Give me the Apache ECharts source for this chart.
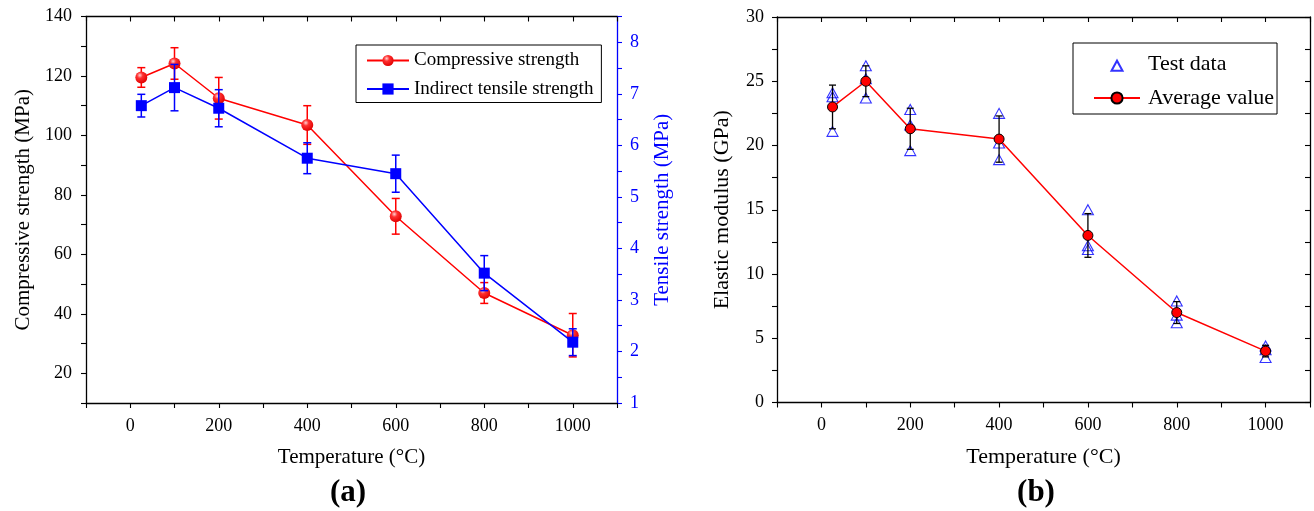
<!DOCTYPE html>
<html><head><meta charset="utf-8">
<script src="https://cdn.jsdelivr.net/npm/echarts@6/dist/echarts.min.js"></script>
<style>html,body{margin:0;padding:0;background:#fff}#c{width:1314px;height:511px}</style>
</head><body><div id="c"></div>
<script>
// ---- data ----
const temps = [25, 100, 200, 400, 600, 800, 1000];
const compressive = [119.5, 124.2, 112.5, 103.5, 72.8, 47.0, 32.8];
const compressiveErr = [3.3, 5.3, 7.0, 6.5, 6.0, 3.5, 7.3];
const tensile = [6.77, 7.12, 6.72, 5.75, 5.45, 3.52, 2.18];
const tensileErr = [0.22, 0.45, 0.36, 0.30, 0.36, 0.34, 0.26];
const testRun1 = [24.1, 26.2, 22.8, 22.5, 15.0, 7.9, 4.4];
const testRun2 = [23.8, 25.2, 21.6, 20.2, 12.2, 6.8, 4.1];
const testRun3 = [21.1, 23.7, 19.6, 18.9, 11.9, 6.2, 3.5];
const modulusAvg = [23.0, 25.0, 21.3, 20.5, 13.0, 7.0, 4.0];
const modulusErr = [1.7, 1.2, 1.6, 1.8, 1.7, 0.85, 0.45];
const xTickLabels = [0, 200, 400, 600, 800, 1000];
const compTickLabels = [20, 40, 60, 80, 100, 120, 140];
const tensTickLabels = [1, 2, 3, 4, 5, 6, 7, 8];
const modTickLabels = [0, 5, 10, 15, 20, 25, 30];

const FONT = 'Liberation Serif, Times New Roman, serif';
const RED = '#ff0000', BLUE = '#0000ff';

function errBar(color, cap, lw) {
  return function (params, api) {
    const x = api.value(0), lo = api.value(1), hi = api.value(2);
    const p1 = api.coord([x, hi]), p2 = api.coord([x, lo]);
    const st = { stroke: color, lineWidth: lw };
    return { type: 'group', children: [
      { type: 'line', shape: { x1: p1[0], y1: p1[1], x2: p2[0], y2: p2[1] }, style: st },
      { type: 'line', shape: { x1: p1[0] - cap, y1: p1[1], x2: p1[0] + cap, y2: p1[1] }, style: st },
      { type: 'line', shape: { x1: p2[0] - cap, y1: p2[1], x2: p2[0] + cap, y2: p2[1] }, style: st }
    ]};
  };
}
function lbl(list) { return v => (list.some(t => Math.abs(t - v) < 1e-6) ? String(v) : ''); }

const axisLine = c => ({ show: true, onZero: false, lineStyle: { color: c, width: 1.3 } });
const tick = (c, inside) => ({ show: true, inside: inside, length: 5, lineStyle: { color: c, width: 1.1 } });
const xBase = { type: 'value', min: -100, max: 1100, interval: 100, splitLine: { show: false } };
const nameStyle = (size, c) => ({ fontFamily: FONT, fontSize: size, color: c || '#000' });
const tickLabel = (list, margin, c) => ({ formatter: lbl(list), fontFamily: FONT, fontSize: 18, color: c || '#000', margin: margin });

const sphere = { type: 'radial', x: 0.38, y: 0.32, r: 0.7, colorStops: [
  { offset: 0, color: '#ffd0d0' }, { offset: 0.35, color: '#ff3030' }, { offset: 1, color: '#e00000' }] };

const option = {
  animation: false,
  backgroundColor: '#fff',
  grid: [
    { left: 86, top: 16.5, width: 531, height: 386.5 },
    { left: 777, top: 17, width: 533, height: 385.5 }
  ],
  xAxis: [
    Object.assign({}, xBase, { gridIndex: 0, position: 'bottom', name: 'Temperature (°C)', nameLocation: 'middle', nameGap: 44,
      nameTextStyle: nameStyle(21), axisLine: axisLine('#000'), axisTick: tick('#000', false),
      axisLabel: tickLabel(xTickLabels, 14) }),
    Object.assign({}, xBase, { gridIndex: 0, position: 'top', axisLine: axisLine('#000'), axisTick: tick('#000', true), axisLabel: { show: false } }),
    Object.assign({}, xBase, { gridIndex: 1, position: 'bottom', name: 'Temperature (°C)', nameLocation: 'middle', nameGap: 44,
      nameTextStyle: nameStyle(22), axisLine: axisLine('#000'), axisTick: tick('#000', false),
      axisLabel: tickLabel(xTickLabels, 14) }),
    Object.assign({}, xBase, { gridIndex: 1, position: 'top', axisLine: axisLine('#000'), axisTick: tick('#000', true), axisLabel: { show: false } })
  ],
  yAxis: [
    { type: 'value', gridIndex: 0, position: 'left', min: 10, max: 140, interval: 10, splitLine: { show: false },
      name: 'Compressive strength (MPa)', nameLocation: 'middle', nameRotate: 90, nameGap: 52,
      nameTextStyle: nameStyle(21), axisLine: axisLine('#000'), axisTick: tick('#000', false),
      axisLabel: tickLabel(compTickLabels, 14) },
    { type: 'value', gridIndex: 0, position: 'right', min: 1, max: 8.5, interval: 0.5, splitLine: { show: false },
      name: 'Tensile strength (MPa)', nameLocation: 'middle', nameRotate: 90, nameGap: 35,
      nameTextStyle: nameStyle(21, BLUE), axisLine: axisLine(BLUE), axisTick: tick(BLUE, false),
      axisLabel: tickLabel(tensTickLabels, 13, BLUE) },
    { type: 'value', gridIndex: 1, position: 'left', min: 0, max: 30, interval: 2.5, splitLine: { show: false },
      name: 'Elastic modulus (GPa)', nameLocation: 'middle', nameRotate: 90, nameGap: 44,
      nameTextStyle: nameStyle(22), axisLine: axisLine('#000'), axisTick: tick('#000', false),
      axisLabel: tickLabel(modTickLabels, 13) },
    { type: 'value', gridIndex: 1, position: 'right', min: 0, max: 30, interval: 2.5, splitLine: { show: false },
      axisLine: axisLine('#000'), axisTick: tick('#000', true), axisLabel: { show: false } }
  ],
  legend: [
    { left: 356, top: 45, orient: 'vertical', itemWidth: 42, itemHeight: 14, itemGap: 9.5,
      padding: [6, 8, 4, 10], borderColor: '#000', borderWidth: 1, borderRadius: 0,
      textStyle: { fontFamily: FONT, fontSize: 19, color: '#000' },
      data: ['Compressive strength', 'Indirect tensile strength'] },
    { left: 1073, top: 43, orient: 'vertical', itemWidth: 46, itemHeight: 14, itemGap: 11.3,
      padding: [10.7, 3, 5, 20], borderColor: '#000', borderWidth: 1, borderRadius: 0,
      textStyle: { fontFamily: FONT, fontSize: 22, color: '#000', padding: [0, 0, 0, 3] },
      data: [
        { name: 'Test data', icon: 'path://M0,0 M46,14 M17.5,13 L23,3 L28.5,13 Z' },
        'Average value'] }
  ],
  graphic: [
    { type: 'text', x: 348, y: 493, style: { text: '(a)', font: 'bold 31px ' + FONT, fill: '#000', textAlign: 'center', textVerticalAlign: 'middle' } },
    { type: 'text', x: 1036, y: 493, style: { text: '(b)', font: 'bold 31px ' + FONT, fill: '#000', textAlign: 'center', textVerticalAlign: 'middle' } }
  ],
  series: [
    { name: 'compErr', type: 'custom', xAxisIndex: 0, yAxisIndex: 0, z: 2, silent: true,
      renderItem: errBar(RED, 4, 1.5),
      data: temps.map((t, i) => [t, compressive[i] - compressiveErr[i], compressive[i] + compressiveErr[i]]) },
    { name: 'Compressive strength', type: 'line', xAxisIndex: 0, yAxisIndex: 0, z: 3,
      symbol: 'circle', symbolSize: 12, itemStyle: { color: sphere },
      lineStyle: { color: RED, width: 1.5 },
      data: temps.map((t, i) => [t, compressive[i]]) },
    { name: 'tensErr', type: 'custom', xAxisIndex: 0, yAxisIndex: 1, z: 4, silent: true,
      renderItem: errBar(BLUE, 4, 1.5),
      data: temps.map((t, i) => [t, tensile[i] - tensileErr[i], tensile[i] + tensileErr[i]]) },
    { name: 'Indirect tensile strength', type: 'line', xAxisIndex: 0, yAxisIndex: 1, z: 5,
      symbol: 'rect', symbolSize: 11, itemStyle: { color: BLUE },
      lineStyle: { color: BLUE, width: 1.5 },
      data: temps.map((t, i) => [t, tensile[i]]) },

    { name: 'Test data', type: 'scatter', xAxisIndex: 2, yAxisIndex: 2, z: 2,
      symbol: 'triangle', symbolSize: [11, 10],
      itemStyle: { color: 'rgba(255,255,255,0)', borderColor: BLUE, borderWidth: 1.1 },
      data: [].concat(temps.map((t, i) => [t, testRun1[i]]), temps.map((t, i) => [t, testRun2[i]]), temps.map((t, i) => [t, testRun3[i]])) },
    { name: 'modErr', type: 'custom', xAxisIndex: 2, yAxisIndex: 2, z: 3, silent: true,
      renderItem: errBar('#000', 3.5, 1.3),
      data: temps.map((t, i) => [t, modulusAvg[i] - modulusErr[i], modulusAvg[i] + modulusErr[i]]) },
    { name: 'Average value', type: 'line', xAxisIndex: 2, yAxisIndex: 2, z: 4,
      symbol: 'circle', symbolSize: 10, itemStyle: { color: RED, borderColor: '#000', borderWidth: 1 },
      lineStyle: { color: RED, width: 1.5 },
      data: temps.map((t, i) => [t, modulusAvg[i]]) }
  ]
};
const chart = echarts.init(document.getElementById('c'), null, { renderer: 'canvas' });
chart.setOption(option);
</script>
</body></html>
